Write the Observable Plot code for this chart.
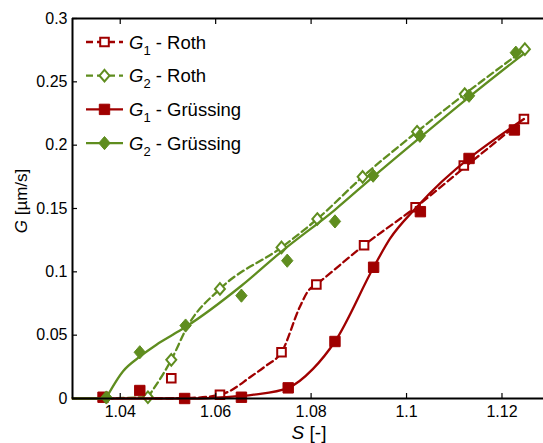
<!DOCTYPE html>
<html><head><meta charset="utf-8">
<script src="https://cdn.jsdelivr.net/npm/d3@7"></script>
<script src="https://cdn.jsdelivr.net/npm/@observablehq/plot@0.6"></script>
<style>
html,body{margin:0;padding:0;background:#fff;}
#chart{position:relative;width:543px;height:443px;overflow:hidden;font-family:"Liberation Sans",Arial,sans-serif;}
</style></head><body><div id="chart"></div>
<script>
const red = "#a00000", green = "#5f8d1f";

// Marker data
const g1RothS = [1.0507, 1.0609, 1.0738, 1.0811, 1.0911, 1.1019, 1.1120, 1.1246];
const g1RothG = [0.016, 0.003, 0.0365, 0.090, 0.121, 0.151, 0.184, 0.2206];
const g2RothS = [1.0458, 1.0507, 1.0609, 1.0738, 1.0813, 1.0908, 1.1022, 1.1122, 1.1248];
const g2RothG = [0.001, 0.0305, 0.0865, 0.1193, 0.1417, 0.175, 0.2106, 0.2403, 0.2758];
const g1GrusS = [1.0364, 1.0441, 1.0535, 1.0654, 1.0752, 1.0850, 1.0931, 1.1029, 1.1131, 1.1226];
const g1GrusG = [0.001, 0.0063, 0.0, 0.001, 0.0084, 0.045, 0.1036, 0.1475, 0.1895, 0.212];
const g2GrusS = [1.0371, 1.0441, 1.0537, 1.0654, 1.0750, 1.0850, 1.0930, 1.1028, 1.1131, 1.1229];
const g2GrusG = [0.0008, 0.0365, 0.0576, 0.0812, 0.1088, 0.1398, 0.1759, 0.2074, 0.2390, 0.2730];

// Fitted curve data; segment ids let the curve have a corner
const g1RothLineS = [1.045, 1.055, 1.061, 1.063, 1.0672, 1.0706, 1.0738, 1.0776, 1.0794, 1.0811, 1.0911, 1.1019, 1.1120, 1.1246];
const g1RothLineG = [0, 0.0005, 0.003, 0.006, 0.0168, 0.026, 0.0365, 0.072, 0.085, 0.090, 0.121, 0.151, 0.182, 0.2206];
const g1RothLineSeg = [0, 0, 0, 0, 0, 0, 0, 0, 0, 0, 0, 0, 0, 0];
const g2RothLineS = [1.037, 1.0458, 1.0458, 1.0507, 1.0542, 1.0609, 1.0738, 1.0813, 1.0908, 1.1022, 1.1122, 1.1248];
const g2RothLineG = [0, 0.001, 0.001, 0.0305, 0.0576, 0.0865, 0.1193, 0.1417, 0.175, 0.2106, 0.2403, 0.2758];
const g2RothLineSeg = [0, 0, 1, 1, 1, 1, 1, 1, 1, 1, 1, 1];
const g1GrusLineS = [1.03, 1.055, 1.062, 1.068, 1.0752, 1.0804, 1.085, 1.0931, 1.0965, 1.1021, 1.1246];
const g1GrusLineG = [0, 0, 0.001, 0.003, 0.0084, 0.0234, 0.045, 0.1036, 0.126, 0.151, 0.2206];
const g1GrusLineSeg = [0, 0, 0, 0, 0, 0, 0, 0, 0, 0, 0];
const g2GrusLineS = [1.03, 1.037, 1.037, 1.0406, 1.0441, 1.0476, 1.0511, 1.0537, 1.0654, 1.0738, 1.085, 1.093, 1.1028, 1.1131, 1.1245];
const g2GrusLineG = [0, 0, 0, 0.0215, 0.033, 0.0425, 0.0505, 0.0565, 0.089, 0.116, 0.149, 0.175, 0.206, 0.238, 0.272];
const g2GrusLineSeg = [0, 0, 1, 1, 1, 1, 1, 1, 1, 1, 1, 1, 1, 1, 1];

const xTicks = [1.04, 1.06, 1.08, 1.1, 1.12];
const yTicks = [0, 0.05, 0.1, 0.15, 0.2, 0.25, 0.3];
const seriesNames = ["Roth", "Roth", "Grüssing", "Grüssing"];
const seriesSub = ["1", "2", "1", "2"];

const zip = (S, G, Z) => S.map((s, i) => ({S: s, G: G[i], z: Z ? Z[i] : 0}));

const squareSym = {draw(ctx, size) { const s = Math.sqrt(size / Math.PI); ctx.moveTo(-s, -s); ctx.lineTo(s, -s); ctx.lineTo(s, s); ctx.lineTo(-s, s); ctx.closePath(); }};
const diamondSym = {draw(ctx, size) { const s = Math.sqrt(size / Math.PI); const w = s * 0.86; ctx.moveTo(0, -s); ctx.lineTo(w, 0); ctx.lineTo(0, s); ctx.lineTo(-w, 0); ctx.closePath(); }};

const styles = [
  {line: zip(g1RothLineS, g1RothLineG, g1RothLineSeg), pts: zip(g1RothS, g1RothG), color: red, dash: "7,4", sym: squareSym, r: 4.3, open: true},
  {line: zip(g2RothLineS, g2RothLineG, g2RothLineSeg), pts: zip(g2RothS, g2RothG), color: green, dash: "7,4", sym: diamondSym, r: 5.8, open: true},
  {line: zip(g1GrusLineS, g1GrusLineG, g1GrusLineSeg), pts: zip(g1GrusS, g1GrusG), color: red, dash: null, sym: squareSym, r: 5.2, open: false},
  {line: zip(g2GrusLineS, g2GrusLineG, g2GrusLineSeg), pts: zip(g2GrusS, g2GrusG), color: green, dash: null, sym: diamondSym, r: 6.6, open: false}
];

const marks = [];
for (const st of styles) {
  marks.push(Plot.line(st.line, {x: "S", y: "G", z: "z", stroke: st.color, strokeWidth: 2.3, strokeDasharray: st.dash, curve: "monotone-x"}));
  marks.push(Plot.dot(st.pts, {x: "S", y: "G", symbol: st.sym, r: st.r,
    fill: st.open ? "white" : st.color, stroke: st.color, strokeWidth: st.open ? 2 : 1}));
}

const plot = Plot.plot({
  width: 543, height: 443,
  marginLeft: 72, marginRight: 0, marginTop: 18, marginBottom: 45,
  style: {fontFamily: "Liberation Sans, Arial, sans-serif", fontSize: "16px", color: "black", background: "white"},
  x: {domain: [1.03, 1.1287], label: null},
  y: {domain: [0, 0.3], label: null},
  marks: [
    ...marks,
    Plot.ruleY([0, 0.3], {stroke: "black", strokeWidth: 2}),
    Plot.ruleX([1.03], {stroke: "black", strokeWidth: 2}),
    Plot.axisX({ticks: xTicks, tickSize: -5, tickFormat: () => "", stroke: "black", strokeWidth: 1.2}),
    Plot.axisX({ticks: xTicks, anchor: "top", tickSize: -5, tickFormat: () => "", stroke: "black", strokeWidth: 1.2}),
    Plot.axisX({ticks: xTicks, tickSize: 0, tickPadding: 7, tickFormat: d => String(d), fontSize: 16}),
    Plot.axisY({ticks: yTicks, tickSize: -5, tickFormat: () => "", stroke: "black", strokeWidth: 1.2}),
    Plot.axisY({ticks: yTicks, tickSize: 0, tickPadding: 5, tickFormat: d => String(d), fontSize: 16})
  ]
});
document.getElementById("chart").appendChild(plot);

const svg = d3.select(plot);
// Axis labels
const xl = svg.append("text").attr("x", 309).attr("y", 439).attr("text-anchor", "middle")
  .attr("font-size", 19).attr("fill", "black");
xl.append("tspan").attr("font-style", "italic").text("S");
xl.append("tspan").text(" [-]");
const yl = svg.append("text").attr("transform", "translate(27,201) rotate(-90)").attr("text-anchor", "middle")
  .attr("font-size", 17).attr("fill", "black");
yl.append("tspan").attr("font-style", "italic").text("G");
yl.append("tspan").text(" [µm/s]");

// Legend
const lg = svg.append("g").attr("text-anchor", "start");
styles.forEach((st, i) => {
  const cy = 42 + i * 33.7;
  lg.append("line").attr("x1", 86).attr("x2", 123).attr("y1", cy).attr("y2", cy)
    .attr("stroke", st.color).attr("stroke-width", 2.3).attr("stroke-dasharray", st.dash);
  lg.append("path").attr("transform", `translate(104.5,${cy})`)
    .attr("d", d3.symbol(st.sym, Math.PI * st.r * st.r)())
    .attr("fill", st.open ? "white" : st.color).attr("stroke", st.color).attr("stroke-width", st.open ? 2 : 1);
  const t = lg.append("text").attr("x", 129).attr("y", cy + 6.5).attr("font-size", 18.5).attr("fill", "black").attr("text-anchor", "start");
  t.append("tspan").attr("font-style", "italic").text("G");
  t.append("tspan").attr("font-size", 13).attr("dy", 6).text(seriesSub[i]);
  t.append("tspan").attr("dy", -6).text(" - " + seriesNames[i]);
});
</script></body></html>
